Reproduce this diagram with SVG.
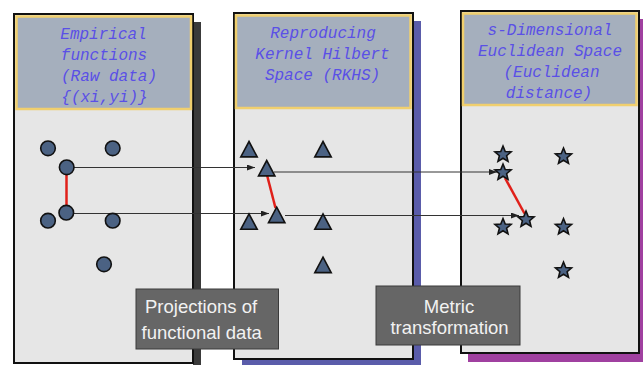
<svg xmlns="http://www.w3.org/2000/svg" width="643" height="365" viewBox="0 0 643 365">
  <style>
    .panel { fill: #e6e6e6; stroke: #111; stroke-width: 2; }
    .head { fill: #a5afbd; stroke: #f0cf6e; stroke-width: 2.5; }
    .htxt { font-family: "Liberation Mono", "Courier New", monospace; font-style: italic; font-size: 16px; fill: #5a50e6; text-anchor: middle; }
    .pt { fill: #4b6283; stroke: #111; stroke-width: 1.6; }
    .link { stroke: #333; stroke-width: 1; fill: none; }
    .dist { stroke: #e0201a; stroke-width: 2.5; }
    .box { fill: #666; stroke: #3a3a3a; stroke-width: 1; }
    .btxt { font-family: "Liberation Sans", Arial, sans-serif; font-size: 18.5px; fill: #f2f2f2; }
  </style>
  <defs>
    <marker id="arr" viewBox="0 0 8 6" refX="8" refY="3" markerWidth="8" markerHeight="6" markerUnits="userSpaceOnUse" orient="auto">
      <path d="M0,0 L8,3 L0,6 Z" fill="#222"/>
    </marker>
    <circle id="dot" r="7.3"/>
    <polygon id="tri" points="0,-7.8 8.2,7.6 -8.2,7.6"/>
    <polygon id="star" points="0,-8.5 2.23,-3.07 8.08,-2.63 3.61,1.17 5,6.88 0,3.8 -5,6.88 -3.61,1.17 -8.08,-2.63 -2.23,-3.07"/>
  </defs>

  <rect width="643" height="365" fill="#fff"/>

  <!-- raw data panel -->
  <g id="panel-empirical">
    <rect x="193" y="22" width="8" height="345" fill="#3a3a3a"/>
    <rect class="panel" x="14" y="14" width="179" height="349"/>
    <rect class="head" x="16.5" y="16.5" width="174.5" height="92.5"/>
    <text class="htxt" x="103.5" y="39">Empirical</text>
    <text class="htxt" x="104" y="60">functions</text>
    <text class="htxt" x="109" y="81">(Raw data)</text>
    <text class="htxt" x="104.5" y="102">{(xi,yi)}</text>
  </g>

  <!-- RKHS panel -->
  <g id="panel-rkhs">
    <rect x="413" y="21" width="8" height="344" fill="#5a5caa"/>
    <rect x="242" y="359" width="179" height="6" fill="#5a5caa"/>
    <rect class="panel" x="234" y="13" width="179" height="346"/>
    <rect class="head" x="236" y="15.5" width="174.5" height="92.5"/>
    <text class="htxt" x="323" y="38">Reproducing</text>
    <text class="htxt" x="322.5" y="59">Kernel Hilbert</text>
    <text class="htxt" x="322.5" y="80">Space (RKHS)</text>
  </g>

  <!-- Euclidean panel -->
  <g id="panel-euclidean">
    <rect x="639" y="19" width="8" height="343" fill="#a040a0"/>
    <rect x="468" y="353" width="179" height="9" fill="#a040a0"/>
    <rect class="panel" x="461" y="11" width="178" height="342"/>
    <rect class="head" x="463" y="13.5" width="173.5" height="91.5"/>
    <text class="htxt" x="550" y="35">s-Dimensional</text>
    <text class="htxt" x="550" y="56">Euclidean Space</text>
    <text class="htxt" x="551.5" y="77">(Euclidean</text>
    <text class="htxt" x="549" y="98">distance)</text>
  </g>

  <!-- mappings between spaces and pairwise distances -->
  <g id="connectors">
    <line class="link" x1="73" y1="167.5" x2="255" y2="167.5" marker-end="url(#arr)"/>
    <line class="link" x1="73" y1="213.5" x2="269" y2="213.5" marker-end="url(#arr)"/>
    <line class="link" x1="274" y1="172" x2="497" y2="172" marker-end="url(#arr)"/>
    <line class="link" x1="285" y1="215.5" x2="519" y2="215.5" marker-end="url(#arr)"/>
    <line class="dist" x1="66.5" y1="174" x2="66.5" y2="206"/>
    <line class="dist" x1="267" y1="175" x2="275.5" y2="208"/>
    <line class="dist" x1="505" y1="178" x2="524.5" y2="213.5"/>
  </g>

  <g id="points-raw">
    <use href="#dot" class="pt" x="48" y="148.3"/>
    <use href="#dot" class="pt" x="112.7" y="148.3"/>
    <use href="#dot" class="pt" x="66.7" y="167.3"/>
    <use href="#dot" class="pt" x="66.3" y="212.7"/>
    <use href="#dot" class="pt" x="48" y="220.7"/>
    <use href="#dot" class="pt" x="112.7" y="220.7"/>
    <use href="#dot" class="pt" x="104" y="264.3"/>
  </g>

  <g id="points-rkhs">
    <use href="#tri" class="pt" x="249" y="149.3"/>
    <use href="#tri" class="pt" x="323" y="149.3"/>
    <use href="#tri" class="pt" x="266.7" y="168.3"/>
    <use href="#tri" class="pt" x="276.7" y="215"/>
    <use href="#tri" class="pt" x="249" y="221.7"/>
    <use href="#tri" class="pt" x="323" y="221.7"/>
    <use href="#tri" class="pt" x="323" y="265"/>
  </g>

  <g id="points-euclidean">
    <use href="#star" class="pt" x="503" y="154.5"/>
    <use href="#star" class="pt" x="563.5" y="156.5"/>
    <use href="#star" class="pt" x="503" y="172.5"/>
    <use href="#star" class="pt" x="526" y="219.5"/>
    <use href="#star" class="pt" x="503" y="227"/>
    <use href="#star" class="pt" x="563.5" y="227"/>
    <use href="#star" class="pt" x="563.5" y="270.5"/>
  </g>

  <g id="label-projections">
    <rect class="box" x="136" y="289" width="142.5" height="60"/>
    <text class="btxt" x="145" y="313">Projections of</text>
    <text class="btxt" x="141.5" y="339">functional data</text>
  </g>

  <g id="label-metric">
    <rect class="box" x="376" y="286" width="144" height="59"/>
    <text class="btxt" x="449" y="312.5" text-anchor="middle">Metric</text>
    <text class="btxt" x="449.5" y="333.5" text-anchor="middle">transformation</text>
  </g>
</svg>
